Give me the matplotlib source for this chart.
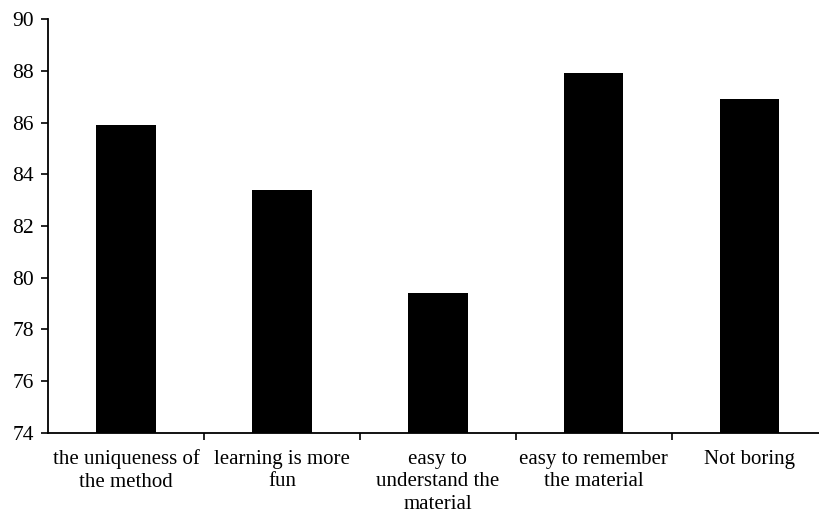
import numpy as np
import matplotlib.pyplot as plt

categories = [
    "the uniqueness of\nthe method",
    "learning is more\nfun",
    "easy to\nunderstand the\nmaterial",
    "easy to remember\nthe material",
    "Not boring",
]
values = [85.9, 83.4, 79.4, 87.9, 86.9]

plt.rcParams['font.family'] = ['Liberation Serif', 'DejaVu Serif']

fig = plt.figure(figsize=(8.2, 5.16), dpi=100)
ax = fig.add_axes([0.0585, 0.161, 0.951, 0.802])

x = np.arange(len(categories))
ax.bar(x, np.array(values) - 74, bottom=74, width=0.38, color='black')

ax.set_xlim(-0.5, len(categories) - 0.5)
ax.set_ylim(74, 90)
ax.set_yticks(np.arange(74, 91, 2))

# labels sit at the category centres, tick marks at the boundaries
ax.set_xticks(x)
ax.set_xticklabels(categories, fontsize=15, linespacing=1.25)
ax.tick_params(axis='x', which='major', length=0, pad=12)
ax.set_xticks(np.arange(0.5, len(categories) - 0.5, 1), minor=True)
ax.tick_params(axis='x', which='minor', length=5, width=1.2, direction='out')
ax.tick_params(axis='y', length=5, width=1.2, labelsize=15.5, pad=5)

for side in ['top', 'right']:
    ax.spines[side].set_visible(False)
for side in ['left', 'bottom']:
    ax.spines[side].set_linewidth(1.3)

fig.savefig('out.png', dpi=100)
